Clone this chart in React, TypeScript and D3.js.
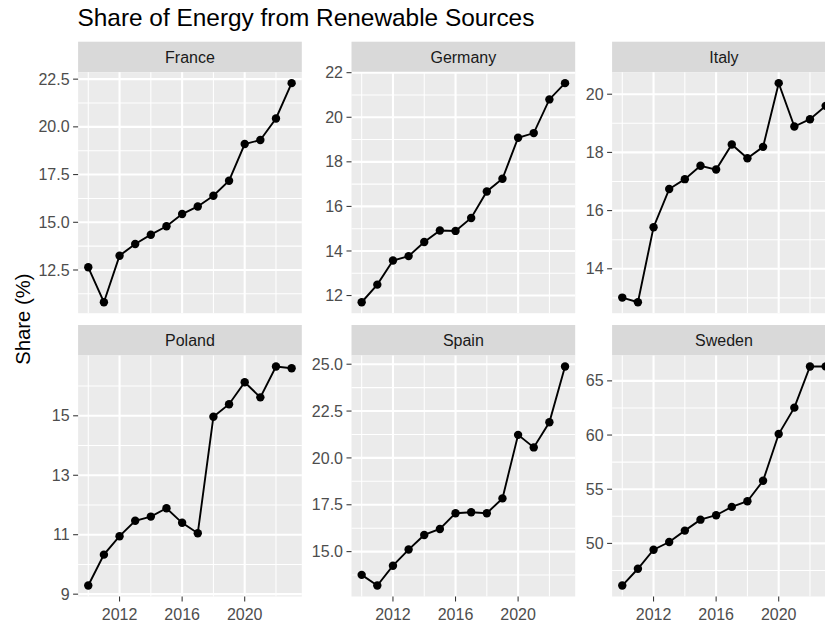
import React from "react";
import * as d3 from "d3";

// Renewable share of gross final energy consumption (%), 2010–2023
const years = [2010, 2011, 2012, 2013, 2014, 2015, 2016, 2017, 2018, 2019, 2020, 2021, 2022, 2023];

const france = [12.64, 10.81, 13.25, 13.86, 14.35, 14.79, 15.43, 15.83, 16.39, 17.18, 19.1, 19.31, 20.44, 22.29];
const germany = [11.7, 12.49, 13.57, 13.77, 14.4, 14.92, 14.9, 15.48, 16.67, 17.24, 19.08, 19.29, 20.8, 21.53];
const italy = [13.01, 12.85, 15.43, 16.74, 17.08, 17.54, 17.41, 18.27, 17.8, 18.19, 20.38, 18.89, 19.14, 19.6];
const poland = [9.29, 10.33, 10.95, 11.47, 11.61, 11.89, 11.4, 11.05, 14.97, 15.39, 16.13, 15.62, 16.66, 16.6];
const spain = [13.76, 13.19, 14.25, 15.11, 15.89, 16.21, 17.05, 17.1, 17.05, 17.84, 21.23, 20.56, 21.9, 24.88];
const sweden = [46.11, 47.66, 49.42, 50.13, 51.18, 52.19, 52.6, 53.37, 53.89, 55.78, 60.09, 62.53, 66.33, 66.33];

const countries = ["France", "Germany", "Italy", "Poland", "Spain", "Sweden"];
const seriesValues = [france, germany, italy, poland, spain, sweden];

// Per-panel y tick labels (free y scales)
const yTickLabels = [
  ["12.5", "15.0", "17.5", "20.0", "22.5"],
  ["12", "14", "16", "18", "20", "22"],
  ["14", "16", "18", "20"],
  ["9", "11", "13", "15"],
  ["15.0", "17.5", "20.0", "22.5", "25.0"],
  ["50", "55", "60", "65"],
];

const xTickLabels = ["2012", "2016", "2020"];
const xMinorBreaks = [2010, 2014, 2018, 2022];

const W = 825;
const H = 626;
const FONT = "'Liberation Sans', Arial, Helvetica, sans-serif";

const colLeft = [78.1, 351.5, 612.1];
const panelW = 223.7;
const rowStripTop = [41.7, 325];
const stripH = 30.5;
const panelH = 241;

function expand(lo: number, hi: number): [number, number] {
  const pad = (hi - lo) * 0.05;
  return [lo - pad, hi + pad];
}

function Panel({ idx }: { idx: number }) {
  const col = idx % 3;
  const row = Math.floor(idx / 3);
  const left = colLeft[col];
  const stripTop = rowStripTop[row];
  const top = stripTop + stripH;
  const bottom = top + panelH;
  const right = left + panelW;

  const values = seriesValues[idx];
  const x = d3
    .scaleLinear()
    .domain(expand(d3.min(years)!, d3.max(years)!))
    .range([left, right]);
  const [ymin, ymax] = d3.extent(values) as [number, number];
  const yDom = expand(ymin, ymax);
  const y = d3.scaleLinear().domain(yDom).range([bottom, top]);

  const majors = yTickLabels[idx].map(Number);
  const step = majors[1] - majors[0];
  const minorCandidates = [majors[0] - step / 2];
  majors.forEach((m) => minorCandidates.push(m + step / 2));
  const minors = minorCandidates.filter((v) => v >= yDom[0] && v <= yDom[1]);

  const line = d3
    .line<number>()
    .x((_, i) => x(years[i]))
    .y((v) => y(v));

  const xMajors = xTickLabels.map(Number);
  const showX = row === 1;

  return (
    <g>
      <rect x={left} y={stripTop} width={panelW} height={stripH} fill="#D9D9D9" />
      <text
        x={(left + right) / 2}
        y={stripTop + stripH / 2 + 5.6}
        textAnchor="middle"
        fontSize={16}
        fill="#1A1A1A"
        fontFamily={FONT}
      >
        {countries[idx]}
      </text>
      <rect x={left} y={top} width={panelW} height={panelH} fill="#EBEBEB" />
      {minors.map((v) => (
        <line key={"ym" + v} x1={left} x2={right} y1={y(v)} y2={y(v)} stroke="#fff" strokeWidth={1.05} />
      ))}
      {xMinorBreaks.map((v) => (
        <line key={"xm" + v} x1={x(v)} x2={x(v)} y1={top} y2={bottom} stroke="#fff" strokeWidth={1.05} />
      ))}
      {majors.map((v) => (
        <line key={"yM" + v} x1={left} x2={right} y1={y(v)} y2={y(v)} stroke="#fff" strokeWidth={2.1} />
      ))}
      {xMajors.map((v) => (
        <line key={"xM" + v} x1={x(v)} x2={x(v)} y1={top} y2={bottom} stroke="#fff" strokeWidth={2.1} />
      ))}
      {majors.map((v, i) => (
        <g key={"yt" + v}>
          <line x1={left - 5} x2={left} y1={y(v)} y2={y(v)} stroke="#333" strokeWidth={1.05} />
          <text
            x={left - 8.5}
            y={y(v) + 5.6}
            textAnchor="end"
            fontSize={16}
            fill="#4D4D4D"
            fontFamily={FONT}
          >
            {yTickLabels[idx][i]}
          </text>
        </g>
      ))}
      {showX &&
        xMajors.map((v, i) => (
          <g key={"xt" + v}>
            <line x1={x(v)} x2={x(v)} y1={bottom} y2={bottom + 5} stroke="#333" strokeWidth={1.05} />
            <text x={x(v)} y={bottom + 23.5} textAnchor="middle" fontSize={16} fill="#4D4D4D" fontFamily={FONT}>
              {xTickLabels[i]}
            </text>
          </g>
        ))}
      <path d={line(values) || ""} fill="none" stroke="#000" strokeWidth={1.9} />
      {values.map((v, i) => (
        <circle key={"p" + i} cx={x(years[i])} cy={y(v)} r={4.2} fill="#000" />
      ))}
    </g>
  );
}

export default function App() {
  return (
    <svg
      width={W}
      height={H}
      viewBox={`0 0 ${W} ${H}`}
      style={{ position: "absolute", left: 0, top: 0, background: "#fff" }}
    >
      <rect x={0} y={0} width={W} height={H} fill="#fff" />
      <text x={77.5} y={26} fontSize={24.4} fill="#000" fontFamily={FONT}>
        Share of Energy from Renewable Sources
      </text>
      <text
        transform={`translate(29.5, ${(rowStripTop[0] + rowStripTop[1] + stripH + panelH) / 2}) rotate(-90)`}
        textAnchor="middle"
        fontSize={20.3}
        fill="#000"
        fontFamily={FONT}
      >
        Share (%)
      </text>
      {countries.map((_, i) => (
        <Panel key={i} idx={i} />
      ))}
    </svg>
  );
}
